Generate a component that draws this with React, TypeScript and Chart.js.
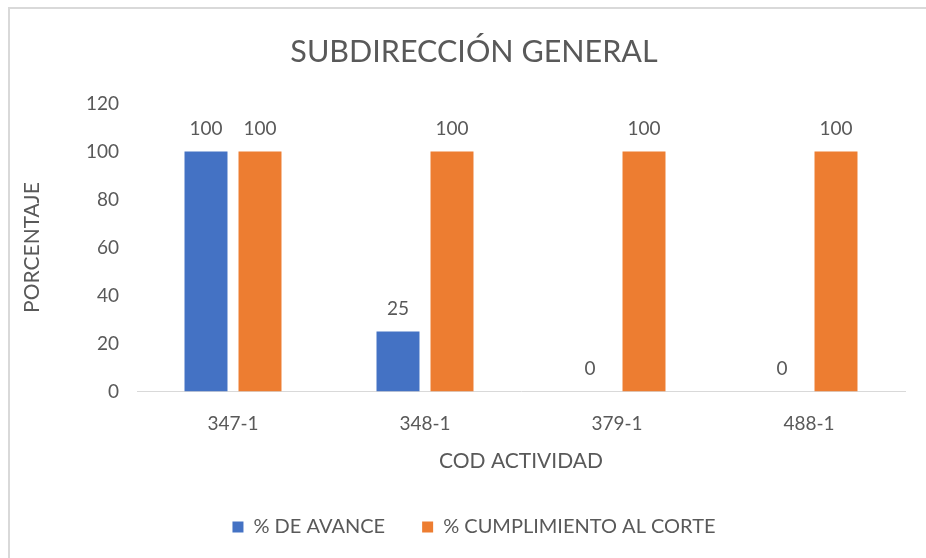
import { useEffect, useRef } from 'react';
import { Chart, registerables } from 'chart.js';

Chart.register(...registerables);

const chartTitle = 'SUBDIRECCIÓN GENERAL';
const xTitle = 'COD ACTIVIDAD';
const yTitle = 'PORCENTAJE';
const categories = ['347-1', '348-1', '379-1', '488-1'];
const seriesNames = ['% DE AVANCE', '% CUMPLIMIENTO AL CORTE'];
const avance = [100, 25, 0, 0];
const cumplimiento = [100, 100, 100, 100];
const yMin = 0;
const yMax = 120;
const yStep = 20;

const FONT = 'Lato, "Open Sans", sans-serif';
const TEXT = '#595959';

const valueLabels = {
  id: 'valueLabels',
  afterDatasetsDraw(chart: any) {
    const ctx = chart.ctx;
    ctx.save();
    ctx.font = `19px ${FONT}`;
    ctx.fillStyle = TEXT;
    ctx.textAlign = 'center';
    ctx.textBaseline = 'middle';
    chart.data.datasets.forEach((ds: any, i: number) => {
      const meta = chart.getDatasetMeta(i);
      meta.data.forEach((el: any, j: number) => {
        ctx.fillText(String(ds.data[j]), el.x, el.y - 23);
      });
    });
    ctx.restore();
  },
};

export default function App() {
  const ref = useRef<HTMLCanvasElement>(null);
  useEffect(() => {
    if (!ref.current) return;
    const chart = new Chart(ref.current, {
      type: 'bar',
      data: {
        labels: categories,
        datasets: [
          {
            label: seriesNames[0],
            data: avance,
            backgroundColor: '#4472C4',
            borderWidth: 0,
            barPercentage: 0.796,
            categoryPercentage: 0.5625,
          },
          {
            label: seriesNames[1],
            data: cumplimiento,
            backgroundColor: '#ED7D31',
            borderWidth: 0,
            barPercentage: 0.796,
            categoryPercentage: 0.5625,
          },
        ],
      },
      options: {
        responsive: false,
        animation: false,
        devicePixelRatio: 1,
        layout: { padding: { top: 0, left: 0, right: 0, bottom: 62 } },
        plugins: {
          title: {
            display: true,
            text: chartTitle,
            color: TEXT,
            font: { family: FONT, size: 30.5, weight: 'normal' as any },
            padding: { top: 25, bottom: 33 },
          },
          legend: {
            display: true,
            position: 'bottom',
            labels: {
              color: TEXT,
              font: { family: FONT, size: 20 },
              boxWidth: 11,
              boxHeight: 11,
              padding: 37,
            },
          },
          tooltip: { enabled: false },
        },
        scales: {
          x: {
            type: 'category',
            grid: { display: false, drawTicks: false },
            border: { display: true, color: '#d9d9d9', width: 1 },
            ticks: { color: TEXT, font: { family: FONT, size: 19 }, padding: 21 },
            title: {
              display: true,
              text: xTitle,
              color: TEXT,
              font: { family: FONT, size: 21 },
              padding: { top: 0, bottom: 6 },
            },
            afterFit(s: any) {
              s.height = 88.5;
            },
          },
          y: {
            type: 'linear',
            min: yMin,
            max: yMax,
            grid: { display: false, drawTicks: false },
            border: { display: false },
            ticks: { stepSize: yStep, color: TEXT, font: { family: FONT, size: 19 }, padding: 18 },
            title: {
              display: true,
              text: yTitle,
              color: TEXT,
              font: { family: FONT, size: 21 },
              padding: { top: 10, bottom: 0 },
            },
            afterFit(s: any) {
              s.width = 127;
            },
          },
          yR: {
            type: 'linear',
            position: 'right',
            display: true,
            grid: { display: false, drawTicks: false },
            border: { display: false },
            ticks: { display: false },
            afterFit(s: any) {
              s.width = 33;
            },
          },
        },
      },
      plugins: [valueLabels],
    });
    return () => chart.destroy();
  }, []);

  return (
    <div style={{ position: 'fixed', left: 0, top: 0, width: 926, height: 558, overflow: 'hidden', background: '#fff' }}>
      <div style={{ position: 'absolute', left: 8, top: 7, border: '2px solid #d9d9d9', width: 928, height: 600 }}>
        <canvas ref={ref} width={928} height={600} style={{ display: 'block' }} />
      </div>
    </div>
  );
}
